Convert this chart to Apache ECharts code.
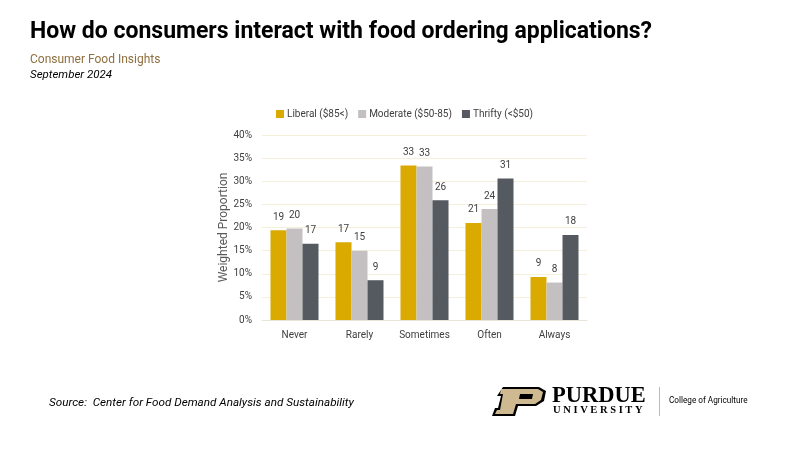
<!DOCTYPE html>
<html>
<head>
<meta charset="utf-8">
<script src="https://cdn.jsdelivr.net/npm/echarts@6/dist/echarts.min.js"></script>
<style>html,body{margin:0;padding:0;background:#fff;}#c{width:800px;height:450px;}</style>
</head>
<body>
<div id="c"></div>
<script>
const categories = ['Never', 'Rarely', 'Sometimes', 'Often', 'Always'];
const liberal = [19.4, 16.8, 33.4, 21.0, 9.3];
const moderate = [19.8, 15.0, 33.2, 24.0, 8.1];
const thrifty = [16.5, 8.6, 25.9, 30.6, 18.4];
const seriesNames = ['Liberal ($85<)', 'Moderate ($50-85)', 'Thrifty (<$50)'];
const yTicks = [0, 5, 10, 15, 20, 25, 30, 35, 40];

const colors = ['#DAAA00', '#C4BFC0', '#555960'];
const font = 'Roboto, "Noto Sans", sans-serif';

function mk(name, data, color) {
  return {
    name: name, type: 'bar', data: data, barWidth: 16, barGap: '0%',
    itemStyle: { color: color },
    label: { show: true, position: 'top', distance: 8, color: '#404040', fontSize: 10, fontFamily: font,
      formatter: p => Math.round(p.value) }
  };
}

const chart = echarts.init(document.getElementById('c'), null, { renderer: 'canvas' });
chart.setOption({
  backgroundColor: '#fff',
  animation: false,
  color: colors,
  legend: {
    top: 104, left: 271, itemWidth: 8, itemHeight: 8, itemGap: 10,
    icon: 'rect',
    textStyle: { fontSize: 10, color: '#404040', fontFamily: font, padding: [0, 0, 0, -2] },
    data: seriesNames
  },
  grid: { left: 262, right: 213, top: 135, bottom: 130 },
  xAxis: {
    type: 'category', data: categories,
    axisLine: { lineStyle: { color: '#e8e4d6' } },
    axisTick: { show: false },
    axisLabel: { color: '#404040', fontSize: 10, fontFamily: font, margin: 10, interval: 0 }
  },
  yAxis: {
    type: 'value', min: yTicks[0], max: yTicks[yTicks.length - 1], interval: 5,
    name: 'Weighted Proportion', nameLocation: 'middle', nameGap: 31,
    nameTextStyle: { fontSize: 12, color: '#595959', fontFamily: font },
    axisLine: { show: false }, axisTick: { show: false },
    axisLabel: { color: '#404040', fontSize: 10, fontFamily: font, formatter: v => v + '%', margin: 10 },
    splitLine: { lineStyle: { color: '#f4f0dc' } }
  },
  series: [mk(seriesNames[0], liberal, colors[0]), mk(seriesNames[1], moderate, colors[1]), mk(seriesNames[2], thrifty, colors[2])],
  graphic: [
    { type: 'text', left: 30, top: 21, style: { text: 'How do consumers interact with food ordering applications?', font: 'bold 23px ' + font, fill: '#000' } },
    { type: 'text', left: 30, top: 54, style: { text: 'Consumer Food Insights', font: '12px ' + font, fill: '#8E6F3E' } },
    { type: 'text', left: 30, top: 69, style: { text: 'September 2024', font: 'italic 11.5px ' + font, fill: '#000' } },
    { type: 'text', left: 49, top: 397, style: { text: 'Source:  Center for Food Demand Analysis and Sustainability', font: 'italic 11.7px ' + font, fill: '#000' } },
    // Purdue P logo
    { type: 'polygon', shape: { points: [[503,387],[539,387],[546,391],[544,401],[536,406],[518,406],[515,416],[492,416],[495,408],[498,408],[501,396],[497,396]] }, style: { fill: '#000' } },
    { type: 'polygon', shape: { points: [[505,389],[538,389],[543,392],[541,400],[535,404],[516,404],[513,414],[495,414],[497,410],[500,410],[503,394],[500,394],[501,389]] }, style: { fill: '#CFB991' } },
    { type: 'polygon', shape: { points: [[520,394],[533,394],[532,399],[519,399]] }, style: { fill: '#000' } },
    { type: 'text', left: 552, top: 385, style: { text: 'PURDUE', font: 'bold 22.5px "Liberation Serif", serif', fill: '#000' } },
    { type: 'text', left: 553, top: 405, style: { text: 'U N I V E R S I T Y', font: 'bold 10.5px "Liberation Serif", serif', fill: '#000' } },
    { type: 'rect', shape: { x: 659, y: 387, width: 1, height: 29 }, style: { fill: '#bbb' } },
    { type: 'text', left: 669, top: 397, style: { text: 'College of Agriculture', font: '8.2px ' + font, fill: '#000' } }
  ]
});
</script>
</body>
</html>
